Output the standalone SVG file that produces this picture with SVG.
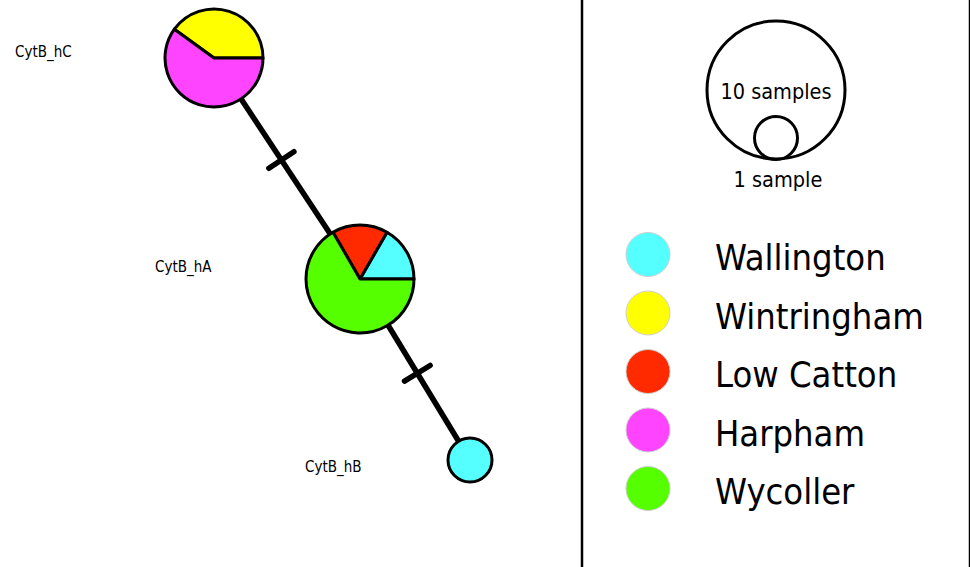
<svg xmlns="http://www.w3.org/2000/svg" width="970" height="567" viewBox="0 0 970 567">
<style>
.lbl{font-family:"DejaVu Sans Condensed","DejaVu Sans",sans-serif;font-stretch:condensed;fill:#000}
.node{stroke:#000;stroke-width:3;stroke-linejoin:round}
.edge{stroke:#000;stroke-width:5.5;fill:none}
.tick{stroke:#000;stroke-width:5.5;stroke-linecap:round}
.key{stroke:#cfcfcf;stroke-width:1}
.c-wal{fill:#55FFFF}.c-win{fill:#FFFF00}.c-low{fill:#FF2A00}.c-har{fill:#FF44FF}.c-wyc{fill:#55FF00}
</style>
<rect width="970" height="567" fill="#fff"/>
<g id="connectors">
<line class="edge" x1="214" y1="58" x2="360" y2="279"/>
<line class="edge" x1="360" y1="279" x2="470" y2="460"/>
<line class="tick" x1="268.9" y1="168.3" x2="293.9" y2="151.7"/>
<line class="tick" x1="404.5" y1="381.1" x2="430.1" y2="365.5"/>
</g>
<g id="CytB_hC">
<path class="node c-win" d="M214,58 L263,58 A49,49 0 0 0 174.36,29.2 Z"/>
<path class="node c-har" d="M214,58 L174.36,29.2 A49,49 0 1 0 263,58 Z"/>
<text class="lbl" x="15" y="57" font-size="15">CytB_hC</text>
</g>
<g id="CytB_hA">
<path class="node c-wal" d="M360,279 L414,279 A54,54 0 0 0 387,232.23 Z"/>
<path class="node c-low" d="M360,279 L387,232.23 A54,54 0 0 0 333,232.23 Z"/>
<path class="node c-wyc" d="M360,279 L333,232.23 A54,54 0 1 0 414,279 Z"/>
<text class="lbl" x="155" y="272" font-size="15">CytB_hA</text>
</g>
<g id="CytB_hB">
<circle class="node c-wal" cx="470" cy="460" r="22"/>
<text class="lbl" x="305" y="472" font-size="15">CytB_hB</text>
</g>
<g id="legend">
<rect x="582" y="-5" width="388" height="577" fill="none" stroke="#000" stroke-width="2.5"/>
<circle cx="776" cy="90" r="69" fill="none" stroke="#000" stroke-width="3"/>
<circle cx="776" cy="138" r="21.5" fill="none" stroke="#000" stroke-width="3"/>
<text class="lbl" x="776" y="99" font-size="21.5" text-anchor="middle">10 samples</text>
<text class="lbl" x="778" y="187" font-size="21.5" text-anchor="middle">1 sample</text>
<circle class="key c-wal" cx="648" cy="254.5" r="22"/>
<circle class="key c-win" cx="648" cy="313" r="22"/>
<circle class="key c-low" cx="648" cy="371.5" r="22"/>
<circle class="key c-har" cx="648" cy="430" r="22"/>
<circle class="key c-wyc" cx="648" cy="488.5" r="22"/>
<text class="lbl" x="715" y="270" font-size="36">Wallington</text>
<text class="lbl" x="715" y="328.5" font-size="36">Wintringham</text>
<text class="lbl" x="715" y="387" font-size="36">Low Catton</text>
<text class="lbl" x="715" y="445.5" font-size="36">Harpham</text>
<text class="lbl" x="715" y="504" font-size="36">Wycoller</text>
</g>
</svg>
